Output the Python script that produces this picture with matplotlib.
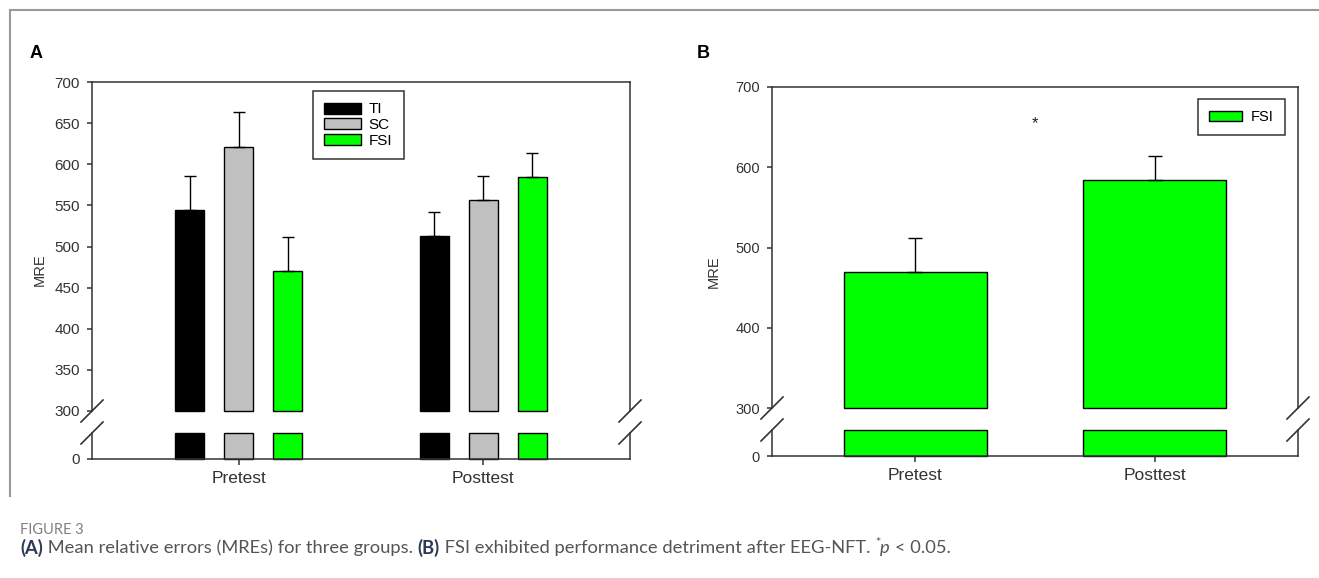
import numpy as np
import matplotlib
matplotlib.use("Agg")
import matplotlib.pyplot as plt
from matplotlib.lines import Line2D
from matplotlib.patches import Patch

W, H = 1319, 578

# data
groups = ["Pretest", "Posttest"]
series = ["TI", "SC", "FSI"]
colors = ["#000000", "#c0c0c0", "#00ff00"]
mre_a = {"TI": [544, 513], "SC": [621, 556], "FSI": [470, 584]}
err_a = {"TI": [42, 29], "SC": [42, 30], "FSI": [42, 30]}
mre_b = [470, 584]
err_b = [42, 30]
sig_x, sig_y = 1.5, 654

LOW_TOP = 30  # top of the lower (0..) segment of the broken axis
AX_COL = "#333333"

plt.rcParams["font.family"] = ["Liberation Sans", "DejaVu Sans"]

fig = plt.figure(figsize=(W / 100, H / 100), dpi=100)


def px_axes(x0, y0, x1, y1):
    return fig.add_axes([x0 / W, 1 - y1 / H, (x1 - x0) / W, (y1 - y0) / H])


def slash(x, y):
    fig.add_artist(Line2D([(x - 11) / W, (x + 11) / W], [1 - (y + 11) / H, 1 - (y - 11) / H],
                          color=AX_COL, lw=1.2))


def broken_axes(x0, x1, ytop, ybrk_hi, ybrk_lo, ybot, yticks, tick_fs):
    top = px_axes(x0, ytop, x1, ybrk_hi)
    bot = px_axes(x0, ybrk_lo, x1, ybot)
    for ax in (top, bot):
        for s in ax.spines.values():
            s.set_color(AX_COL)
            s.set_linewidth(1.1)
        ax.set_xlim(0.4, 2.6)
        ax.tick_params(axis="y", direction="out", length=3.6, width=1.1, color=AX_COL,
                       labelsize=tick_fs, labelcolor="#333333", pad=5)
    top.spines["bottom"].set_visible(False)
    bot.spines["top"].set_visible(False)
    top.set_ylim(300, 700)
    top.set_yticks(yticks)
    top.set_xticks([])
    bot.set_ylim(0, LOW_TOP)
    bot.set_yticks([0])
    bot.set_xticks([1, 2])
    bot.set_xticklabels(groups)
    bot.tick_params(axis="x", direction="out", length=4.5, width=1.1, color=AX_COL,
                    labelsize=12.5, labelcolor="#333333", pad=4)
    for x in (x0, x1):
        slash(x, ybrk_hi)
        slash(x, ybrk_lo)
    return top, bot


# ---- panel A ----
topA, botA = broken_axes(92, 630, 82, 411, 433, 459, np.arange(300, 701, 50), 11)
xc = np.array([1, 2])
offs = [-0.2, 0.0, 0.2]
for s, c, o in zip(series, colors, offs):
    v = np.array(mre_a[s])
    topA.bar(xc + o, v - 300, bottom=300, width=0.12, color=c, edgecolor="black",
             linewidth=1.0, clip_on=False)
    botA.bar(xc + o, np.minimum(v, LOW_TOP), width=0.12, color=c, edgecolor="black",
             linewidth=1.0, clip_on=False)
    topA.errorbar(xc + o, v, yerr=[np.zeros(2), err_a[s]], fmt="none", ecolor="black",
                  elinewidth=1.0, capsize=4, capthick=1.0)
handles = [Patch(facecolor=c, edgecolor="black", linewidth=1.0) for c in colors]
legA = topA.legend(handles, series, loc="upper left", bbox_to_anchor=(313 / W, 1 - 91 / H),
                   bbox_transform=fig.transFigure, fontsize=11, frameon=True, fancybox=False,
                   edgecolor=AX_COL, framealpha=1, handlelength=2.4, handleheight=0.75,
                   handletextpad=0.5, labelspacing=0.1, borderpad=0.75, borderaxespad=0)
legA.get_frame().set_linewidth(1.1)

# ---- panel B ----
topB, botB = broken_axes(772, 1298, 87, 408, 430, 456, np.arange(300, 701, 100), 10.5)
vb = np.array(mre_b)
topB.bar(xc, vb - 300, bottom=300, width=0.6, color=colors[2], edgecolor="black",
         linewidth=1.0, clip_on=False)
botB.bar(xc, np.minimum(vb, LOW_TOP), width=0.6, color=colors[2], edgecolor="black",
         linewidth=1.0, clip_on=False)
topB.errorbar(xc, vb, yerr=[np.zeros(2), err_b], fmt="none", ecolor="black",
              elinewidth=1.0, capsize=5, capthick=1.0)
topB.text(sig_x, sig_y, "*", ha="center", va="center", fontsize=12, color="#222222")
legB = topB.legend([handles[2]], ["FSI"], loc="upper left", bbox_to_anchor=(1198 / W, 1 - 99 / H),
                   bbox_transform=fig.transFigure, fontsize=10.5, frameon=True, fancybox=False,
                   edgecolor=AX_COL, framealpha=1, handlelength=2.3, handleheight=0.75,
                   handletextpad=0.6, borderpad=0.75, borderaxespad=0)
legB.get_frame().set_linewidth(1.1)

# labels
fig.text(30 / W, 1 - 53 / H, "A", fontsize=13, fontweight="bold", ha="left", va="center")
fig.text(697 / W, 1 - 53 / H, "B", fontsize=13, fontweight="bold", ha="left", va="center")
fig.text(40 / W, 1 - 270 / H, "MRE", rotation=90, fontsize=10.5, color="#333333",
         ha="center", va="center")
fig.text(714 / W, 1 - 272 / H, "MRE", rotation=90, fontsize=10.5, color="#333333",
         ha="center", va="center")

# frame lines around the figure area
fig.add_artist(Line2D([10 / W, 1.0], [1 - 10 / H, 1 - 10 / H], color="#999999", lw=1.5))
fig.add_artist(Line2D([10 / W, 10 / W], [1 - 10 / H, 1 - 496 / H], color="#999999", lw=1.5))

# caption
cap_font = ["Lato", "DejaVu Sans"]
fig.text(20 / W, 1 - 530 / H, "FIGURE 3", fontsize=10.5, color="#808080", family=cap_font,
         ha="left", va="center")

r = fig.canvas.get_renderer()
parts = [
    ("(A)", dict(fontweight="bold", color="#2b3b55")),
    (" Mean relative errors (MREs) for three groups. ", dict(color="#555555")),
    ("(B)", dict(fontweight="bold", color="#2b3b55")),
    (" FSI exhibited performance detriment after EEG-NFT. ", dict(color="#555555")),
    ("*", dict(color="#555555", fontsize=9, dy=-5)),
    ("p", dict(color="#555555", style="italic")),
    (" < 0.05.", dict(color="#555555")),
]
x = 20.0
for s, kw in parts:
    kw = dict(kw)
    dy = kw.pop("dy", 0)
    fs = kw.pop("fontsize", 13.2)
    t = fig.text(x / W, 1 - (548 + dy) / H, s, fontsize=fs, family=cap_font,
                 ha="left", va="center", **kw)
    x += t.get_window_extent(r).width

fig.savefig("out.png", dpi=100)
